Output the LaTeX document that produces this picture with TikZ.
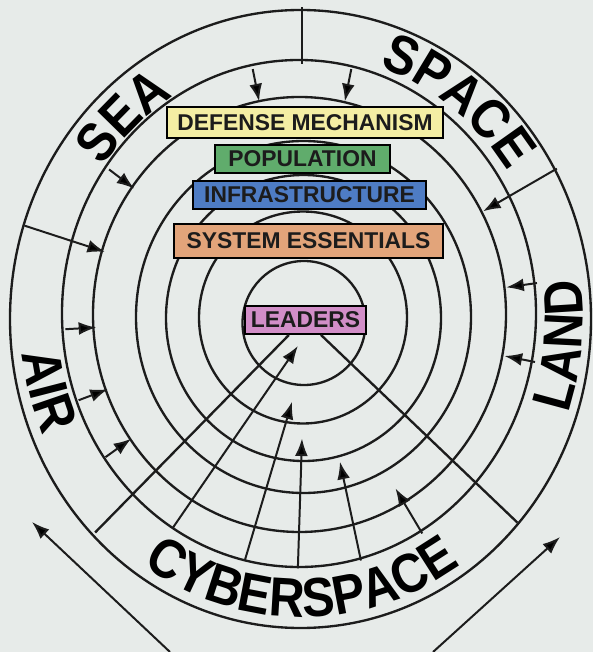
\documentclass[tikz,border=0pt]{standalone}
\usepackage{fontspec}
\setmainfont{Liberation Sans}
\newfontfamily\ringfamily[FakeStretch=0.89]{Liberation Sans Bold}
\usepackage{tikz}
\usetikzlibrary{arrows.meta,decorations.text}
\definecolor{paper}{RGB}{231,235,233}
\definecolor{ink}{RGB}{28,28,28}
\definecolor{defyellow}{RGB}{244,238,164}
\definecolor{popgreen}{RGB}{96,172,108}
\definecolor{infblue}{RGB}{78,124,196}
\definecolor{essorange}{RGB}{226,164,122}
\definecolor{leadpink}{RGB}{210,142,200}
\newcommand{\boxfont}{\fontsize{19.5}{20}\selectfont\bfseries}
\newcommand{\ringfont}{\ringfamily\fontsize{47}{47}\selectfont}

\begin{document}
\begin{tikzpicture}[x=0.03cm,y=0.03cm,draw=ink,text=ink,
  ring/.style={line width=2pt},
  arr/.style={line width=1.7pt,-{Latex[length=15pt,width=11pt]}},
  box/.style={draw=black,line width=1.6pt,inner sep=0pt,font=\boxfont},
  ringtext/.style={decorate,decoration={text along path,text align=center,text={|\ringfont|#1}}}]
\fill [paper] (-302,-336) rectangle (291,316);
\useasboundingbox (-302,-336) rectangle (291,316);
% the rings
\foreach \cx/\cy/\rx/\ry in {-1.5/-3/290.5/309,-3/2.5/237/253.5,-2.5/1.5/206.5/217.5,
    1.5/-1/167.5/176,1.5/-2/137.5/143,1/-1.5/104/106,2/-7/61.5/62}
  \draw [ring] (\cx,\cy) ellipse [x radius=\rx,y radius=\ry];
% labels on the outer ring
\path [ringtext=SEA] (163:243 and 259) arc [start angle=163,end angle=103,x radius=243,y radius=259];
\path [ringtext=SPACE] (90:246 and 262) arc [start angle=90,end angle=16,x radius=246,y radius=262];
\path [ringtext=LAND] (-40:281 and 300) arc [start angle=-40,end angle=28,x radius=281,y radius=300];
\path [ringtext=AIR] (170:282 and 300) arc [start angle=170,end angle=221,x radius=282,y radius=300];
\path [ringtext=CYBERSPACE] (215:283 and 301) arc [start angle=215,end angle=325,x radius=283,y radius=301];
% the boxes
\node [box,fill=defyellow,minimum width=8.28cm,minimum height=0.93cm] (defense) at (3,193.5) {DEFENSE MECHANISM};
\node [box,fill=popgreen,minimum width=5.25cm,minimum height=0.84cm] (population) at (0.5,157) {POPULATION};
\node [box,fill=infblue,minimum width=6.99cm,minimum height=0.84cm] (infra) at (7.5,121) {INFRASTRUCTURE};
\node [box,fill=essorange,minimum width=8.07cm,minimum height=1.02cm] (essentials) at (6.5,75) {SYSTEM ESSENTIALS};
\node [box,fill=leadpink,minimum width=3.63cm,minimum height=0.84cm] (leaders) at (3.5,-4) {LEADERS};
% arrows between the rings
\begin{scope}[yscale=1.065]
\draw [ring] (90:290) -- (90:237);
\draw [arr] (102:237) -- (102:206);
\draw [arr] (78:237) -- (78:206);
\draw [arr] (144.5:237) -- (144.5:206);
\draw [arr] (163:290) -- (163:206);
\draw [arr] (28.5:290) -- (28.5:206);
\draw [arr] (183:237) -- (183:206);
\draw [arr] (199.5:237) -- (199.5:206);
\draw [arr] (214:237) -- (214:206);
\draw [arr] (7.5:237) -- (7.5:206);
\draw [arr] (-10.5:237) -- (-10.5:206);
\draw [arr,shorten >=0.4cm] (237:237) -- (leaders.south);
\draw [arr] (256:237) -- (263:81);
\draw [arr] (269:237) -- (270:115);
\draw [arr] (284.4:237) -- (285.5:142);
\draw [arr] (300.5:237) -- (300:187);
\draw [ring] (leaders.222) -- (224.5:290);
\draw [ring] (leaders.316) -- (318:290);
\end{scope}
% the two outer arrows
\coordinate (airtail) at (-132,-336);
\coordinate (airhead) at (-270,-206);
\coordinate (landtail) at (131,-336);
\coordinate (landhead) at (258,-221);
\draw [arr] (airtail) -- (airhead);
\draw [arr] (landtail) -- (landhead);
\end{tikzpicture}
\end{document}
